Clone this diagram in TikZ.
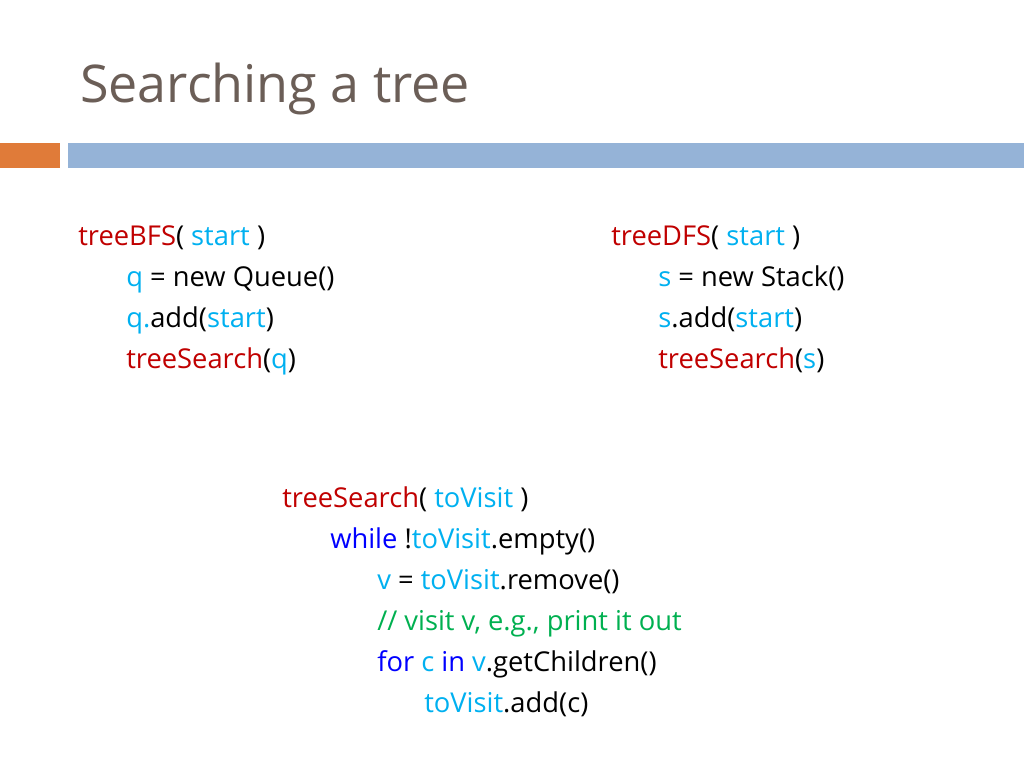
\documentclass[tikz,border=0pt]{standalone}
\usepackage{fontspec}
\setmainfont{Open Sans}
\begin{document}
\begin{tikzpicture}[x=0.75pt,y=-0.75pt,
  t/.style={anchor=base west,inner sep=0pt,font=\fontsize{20.5}{24}\selectfont}]
\definecolor{dr}{HTML}{C00000}\definecolor{cy}{HTML}{00B0F0}
\definecolor{bl}{HTML}{0000FF}\definecolor{gr}{HTML}{00B050}
\definecolor{ti}{HTML}{6B5E57}\definecolor{orb}{HTML}{E07B39}\definecolor{blb}{HTML}{95B3D7}
\useasboundingbox (0,0) rectangle (1024,768);
\fill[orb] (0,143) rectangle (60,168);
\fill[blb] (68,143) rectangle (1024,168);
\node[anchor=base west,inner sep=0pt,text=ti,font=\fontsize{39}{46}\selectfont] (title) at (80,102) {Searching a tree};
\node[t] (b1) at (78,245) {\textcolor{dr}{treeBFS}( \textcolor{cy}{start} )};
\node[t] (b2) at (126,286) {\textcolor{cy}{q} = new Queue()};
\node[t] (b3) at (126,327) {\textcolor{cy}{q.}add(\textcolor{cy}{start})};
\node[t] (b4) at (126,368) {\textcolor{dr}{treeSearch}(\textcolor{cy}{q})};
\node[t] (d1) at (611,245) {\textcolor{dr}{treeDFS}( \textcolor{cy}{start} )};
\node[t] (d2) at (658,286) {\textcolor{cy}{s} = new Stack()};
\node[t] (d3) at (658,327) {\textcolor{cy}{s}.add(\textcolor{cy}{start})};
\node[t] (d4) at (658,368) {\textcolor{dr}{treeSearch}(\textcolor{cy}{s})};
\node[t] (s1) at (282,507) {\textcolor{dr}{treeSearch}( \textcolor{cy}{toVisit} )};
\node[t] (s2) at (330,548) {\textcolor{bl}{while} !\textcolor{cy}{toVisit}.empty()};
\node[t] (s3) at (377,589) {\textcolor{cy}{v} = \textcolor{cy}{toVisit}.remove()};
\node[t] (s4) at (377,630) {\textcolor{gr}{// visit v, e.g., print it out}};
\node[t] (s5) at (377,671) {\textcolor{bl}{for} \textcolor{cy}{c} \textcolor{bl}{in} \textcolor{cy}{v}.getChildren()};
\node[t] (s6) at (424,712) {\textcolor{cy}{toVisit}.add(c)};
\end{tikzpicture}
\end{document}
